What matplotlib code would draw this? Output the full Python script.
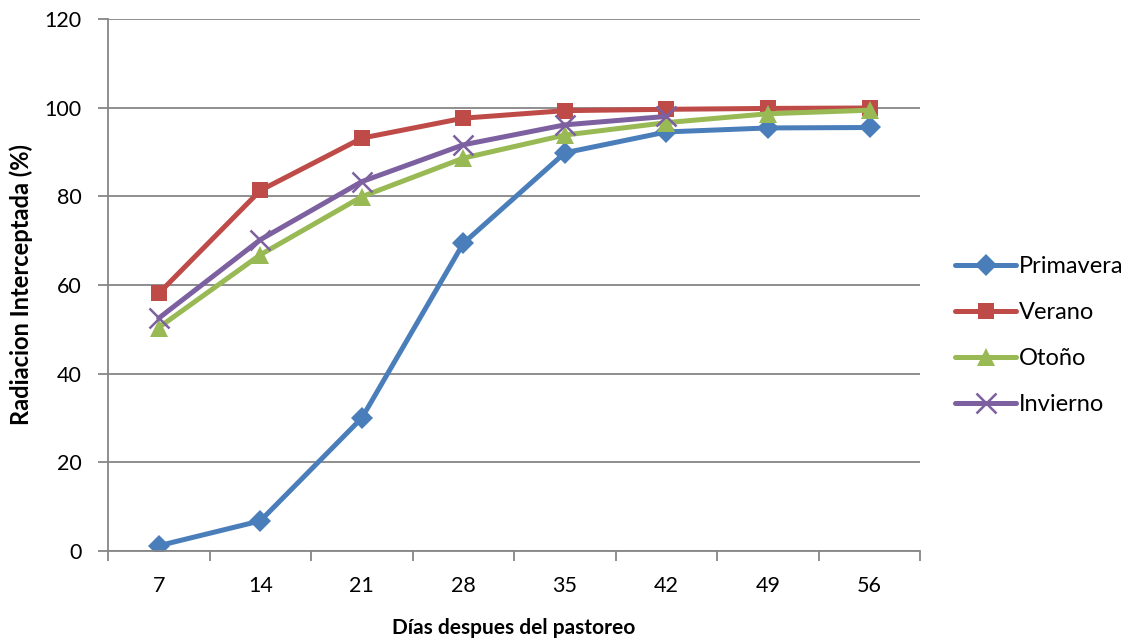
import numpy as np
import matplotlib.pyplot as plt

plt.rcParams['font.family'] = ['Lato', 'DejaVu Sans']

# days after grazing (categories on x)
dias = ["7", "14", "21", "28", "35", "42", "49", "56"]

# intercepted radiation (%) per season
primavera = [1.2, 6.8, 30.0, 69.4, 89.8, 94.5, 95.4, 95.5]
verano = [58.1, 81.3, 93.1, 97.6, 99.3, 99.6, 99.8, 99.9]
otono = [50.4, 66.8, 79.9, 88.6, 93.8, 96.6, 98.6, 99.4]
invierno = [52.5, 70.2, 83.3, 91.6, 96.1, 98.0, np.nan, np.nan]

series = [
    ("Primavera", primavera, "#4A7EBB", "D", 11),
    ("Verano", verano, "#BE4B48", "s", 12),
    ("Otoño", otono, "#98B954", "^", 13.5),
    ("Invierno", invierno, "#7D60A0", "x", 14),
]

fig = plt.figure(figsize=(11.33, 6.43), dpi=100)
ax = fig.add_axes([0.0953, 0.143, 0.717, 0.8277])

x = np.arange(len(dias))
for name, vals, col, mk, ms in series:
    kw = dict(markeredgewidth=1.8) if mk == "x" else dict(markeredgewidth=0)
    ax.plot(x, vals, color=col, lw=3.6, marker=mk, markersize=ms,
            markerfacecolor=col, markeredgecolor=col, label=name,
            solid_capstyle="round", **kw)

ax.set_xlim(-0.5, len(dias) - 0.5)
ax.set_ylim(0, 120)
ax.set_yticks(range(0, 121, 20))
ax.set_xticks(x)
ax.set_xticklabels(dias)
# category separators as tick marks
ax.set_xticks(np.arange(-0.5, len(dias)), minor=True)
ax.tick_params(axis="x", which="major", length=0, pad=18)
ax.tick_params(axis="x", which="minor", length=7, width=1.3, color="#868686")
ax.tick_params(axis="y", length=7, width=1.3, color="#868686", pad=12)
ax.tick_params(labelsize=15.5)

ax.grid(axis="y", color="#868686", lw=1.3)
ax.set_axisbelow(True)
for s in ["top", "right"]:
    ax.spines[s].set_visible(False)
for s in ["left", "bottom"]:
    ax.spines[s].set_color("#868686")
    ax.spines[s].set_linewidth(1.3)

ax.set_xlabel("Días despues del pastoreo", fontsize=15, fontweight="bold", labelpad=16)
ax.set_ylabel("Radiacion Interceptada (%)", fontsize=17, fontweight="bold", labelpad=8)

ax.legend(loc="center left", bbox_to_anchor=(1.017, 0.405), frameon=False,
          fontsize=17, handlelength=2.55, handletextpad=0.12, labelspacing=1.06)

fig.savefig("out.png")
